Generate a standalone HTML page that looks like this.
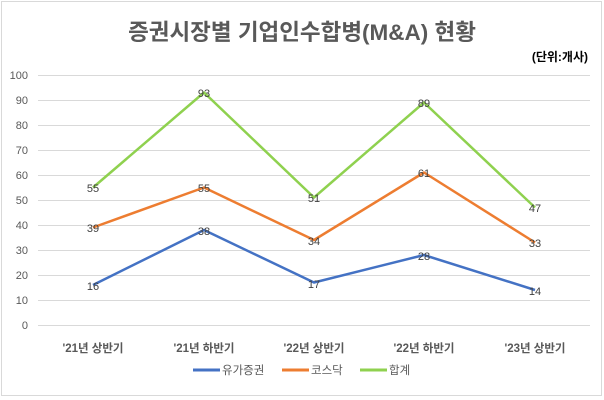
<!DOCTYPE html>
<html><head><meta charset="utf-8"><style>
body{margin:0;background:#fff;}
svg{display:block;font-family:"Liberation Sans","Noto Sans CJK KR",sans-serif;}
</style></head><body>
<svg width="604" height="400" viewBox="0 0 604 400">
<rect x="1.5" y="1.5" width="600" height="394" fill="#fff" stroke="#d9d9d9"/>
<text x="302" y="40" text-anchor="middle" font-size="22.5" font-weight="bold" fill="#595959">증권시장별 기업인수합병(M&amp;A) 현황</text>
<text x="588" y="61" text-anchor="end" font-size="12" font-weight="bold" fill="#000">(단위:개사)</text>
<g stroke="#d9d9d9" stroke-width="1">
<line x1="38" x2="590" y1="75.5" y2="75.5"/><line x1="38" x2="590" y1="100.5" y2="100.5"/>
<line x1="38" x2="590" y1="125.5" y2="125.5"/><line x1="38" x2="590" y1="150.5" y2="150.5"/>
<line x1="38" x2="590" y1="175.5" y2="175.5"/><line x1="38" x2="590" y1="200.5" y2="200.5"/>
<line x1="38" x2="590" y1="225.5" y2="225.5"/><line x1="38" x2="590" y1="250.5" y2="250.5"/>
<line x1="38" x2="590" y1="275.5" y2="275.5"/><line x1="38" x2="590" y1="300.5" y2="300.5"/>
<line x1="38" x2="590" y1="325.5" y2="325.5"/>
</g>
<g font-size="11" fill="#595959" text-anchor="end">
<text x="28" y="79">100</text><text x="28" y="104">90</text><text x="28" y="129">80</text>
<text x="28" y="154">70</text><text x="28" y="179">60</text><text x="28" y="204">50</text>
<text x="28" y="229">40</text><text x="28" y="254">30</text><text x="28" y="279">20</text>
<text x="28" y="304">10</text><text x="28" y="329">0</text>
</g>
<g font-size="11.5" fill="#595959" text-anchor="middle" font-weight="bold">
<text x="93" y="352">'21년 상반기</text><text x="204" y="352">'21년 하반기</text>
<text x="314" y="352">'22년 상반기</text><text x="424" y="352">'22년 하반기</text>
<text x="535" y="352">'23년 상반기</text>
</g>
<g fill="none" stroke-width="2.5" stroke-linejoin="round">
<polyline stroke="#4472c4" points="93,285 204,230 314,282.5 424,255 535,290"/>
<polyline stroke="#ed7d31" points="93,227.5 204,187.5 314,240 424,172.5 535,242.5"/>
<polyline stroke="#8fd14f" points="93,187.5 204,92.5 314,197.5 424,102.5 535,207.5"/>
</g>
<g font-size="11" fill="#404040" text-anchor="middle">
<text x="93" y="290">16</text><text x="204" y="235">38</text><text x="314" y="288">17</text><text x="424" y="260">28</text><text x="535" y="295">14</text>
<text x="93" y="232">39</text><text x="204" y="192">55</text><text x="314" y="245">34</text><text x="424" y="177">61</text><text x="535" y="247">33</text>
<text x="93" y="192">55</text><text x="204" y="97">93</text><text x="314" y="202">51</text><text x="424" y="107">89</text><text x="535" y="212">47</text>
</g>
<g stroke-width="3">
<line x1="193" x2="220" y1="370" y2="370" stroke="#4472c4"/>
<line x1="282" x2="309" y1="370" y2="370" stroke="#ed7d31"/>
<line x1="360" x2="387" y1="370" y2="370" stroke="#8fd14f"/>
</g>
<g font-size="11.5" fill="#595959">
<text x="222" y="374">유가증권</text><text x="311" y="374">코스닥</text><text x="389" y="374">합계</text>
</g>
</svg>
</body></html>
